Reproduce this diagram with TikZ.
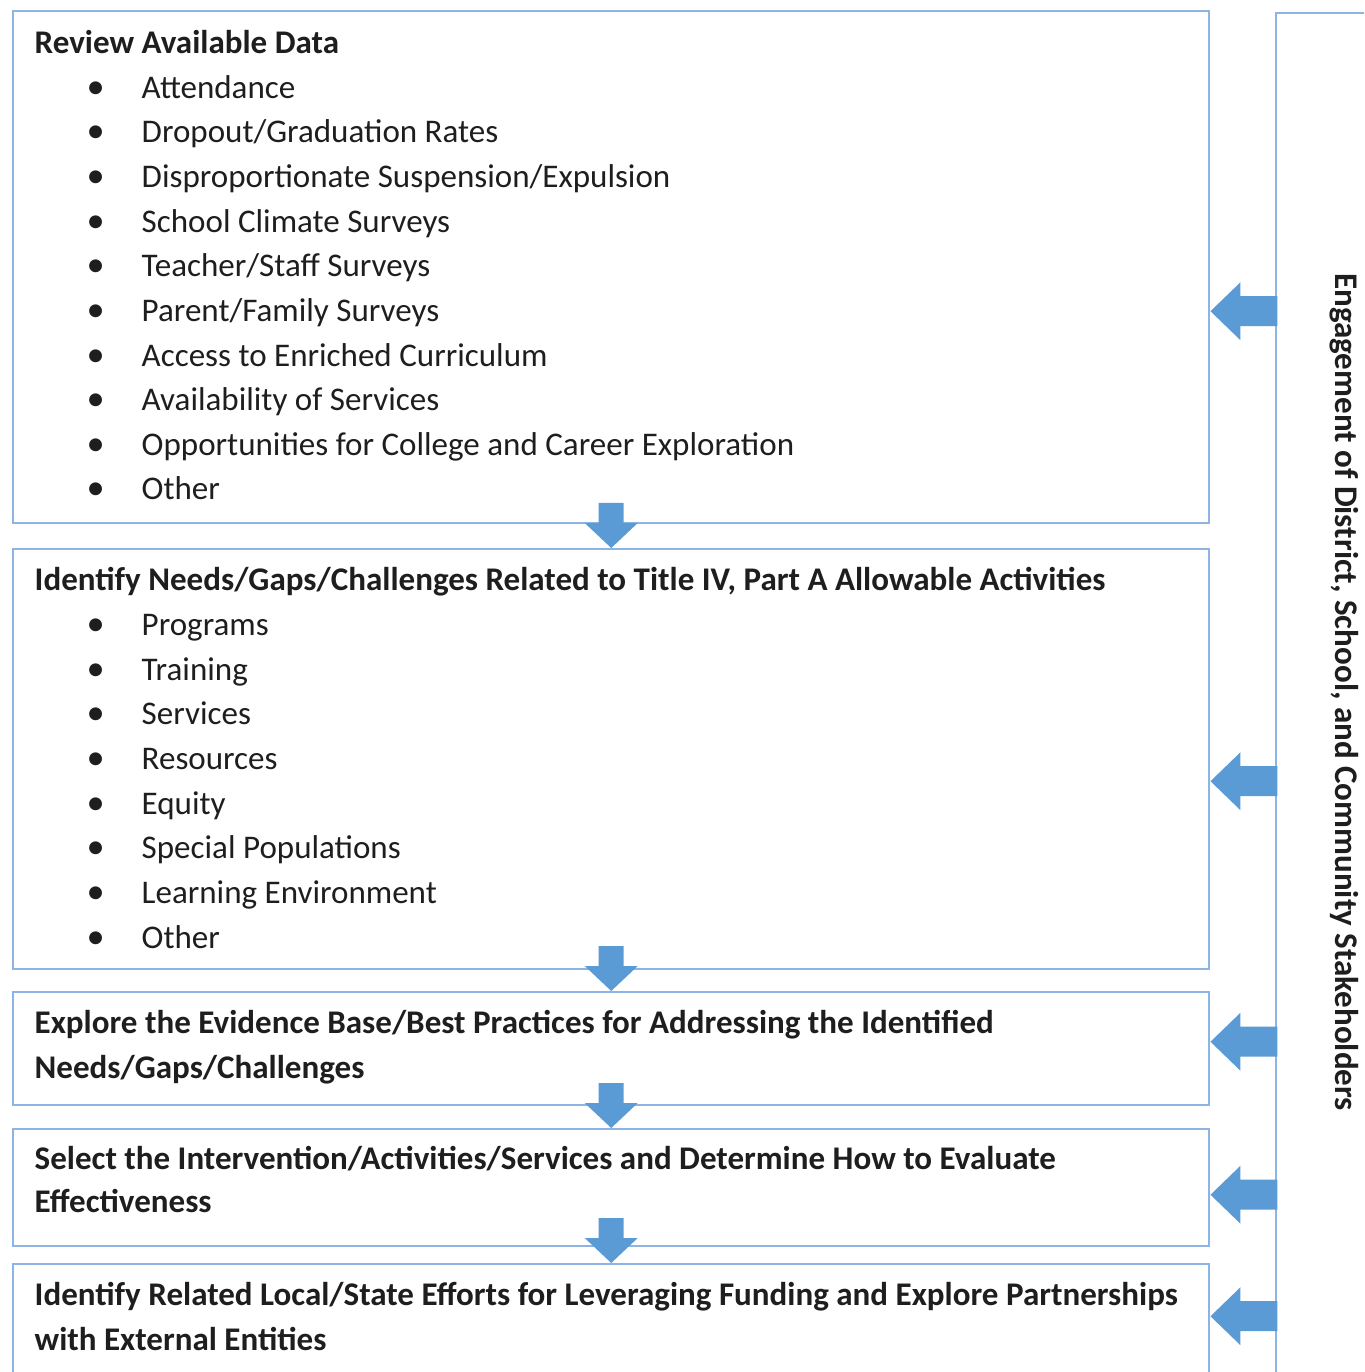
\documentclass[tikz,border=0pt]{standalone}
\usepackage{fontspec}
\setmainfont{Carlito}
\usetikzlibrary{positioning, calc}
\definecolor{flowline}{HTML}{8EB4E3}
\definecolor{flowarrow}{HTML}{5B9BD5}
\definecolor{flowtext}{HTML}{1E1E1E}
\newcommand{\flowitem}[1]{\hspace*{0.52cm}\makebox[0.55cm][l]{\scalebox{1.1}{\textbullet}}#1}
\tikzset{
  stepbox/.style={draw=flowline, line width=0.7pt, anchor=north west,
                  minimum width=11.96cm, inner sep=0},
  sidebox/.style={draw=flowline, line width=0.7pt, anchor=north west,
                  minimum width=2cm, minimum height=14cm, inner sep=0},
  steptext/.style={anchor=base west, align=left, inner sep=0, text=flowtext,
                   font=\fontsize{9.4}{12.7}\selectfont},
  downarr/.pic={\fill[flowarrow] (0,0) -- ++(0.265,0.25) -- ++(-0.14,0) -- ++(0,0.2)
                -- ++(-0.25,0) -- ++(0,-0.2) -- ++(-0.14,0) -- cycle;},
  leftarr/.pic={\fill[flowarrow] (0,0) -- ++(0.30,0.29) -- ++(0,-0.14) -- ++(0.37,0)
                -- ++(0,-0.30) -- ++(-0.37,0) -- ++(0,-0.14) -- cycle;}
}

\begin{document}
\begin{tikzpicture}
  \useasboundingbox (0,0) rectangle (13.64,-13.72);
  \clip (0,0) rectangle (13.64,-13.72);
  \fill[white] (0,0) rectangle (13.64,-13.72);

  % boxes
  \node[stepbox, minimum height=5.12cm] (data) at (0.12,-0.10) {};
  \node[stepbox, minimum height=4.20cm] (needs) at (0.12,-5.48) {};
  \node[stepbox, minimum height=1.13cm] (evidence) at (0.12,-9.91) {};
  \node[stepbox, minimum height=1.17cm] (select) at (0.12,-11.28) {};
  \node[stepbox, minimum height=1.50cm] (leverage) at (0.12,-12.63) {};
  \node[sidebox] (stake) at (12.75,-0.12) {};

  % texts (anchored on the baseline of the last line)
  \node[steptext] (datatxt) at (0.34,-5.00) {\textbf{Review Available Data}\\
    \flowitem{Attendance}\\ \flowitem{Dropout/Graduation Rates}\\
    \flowitem{Disproportionate Suspension/Expulsion}\\ \flowitem{School Climate Surveys}\\
    \flowitem{Teacher/Staff Surveys}\\ \flowitem{Parent/Family Surveys}\\
    \flowitem{Access to Enriched Curriculum}\\ \flowitem{Availability of Services}\\
    \flowitem{Opportunities for College and Career Exploration}\\ \flowitem{Other}};
  \node[steptext] (needstxt) at (0.34,-9.48) {\textbf{Identify Needs/Gaps/Challenges Related to Title IV, Part A Allowable Activities}\\
    \flowitem{Programs}\\ \flowitem{Training}\\ \flowitem{Services}\\ \flowitem{Resources}\\
    \flowitem{Equity}\\ \flowitem{Special Populations}\\ \flowitem{Learning Environment}\\
    \flowitem{Other}};
  \node[steptext, font=\fontsize{9.4}{12.7}\selectfont\bfseries] (evidencetxt) at (0.34,-10.78)
    {Explore the Evidence Base/Best Practices for Addressing the Identified\\ Needs/Gaps/Challenges};
  \node[steptext, font=\fontsize{9.4}{12.2}\selectfont\bfseries] (selecttxt) at (0.34,-12.12)
    {Select the Intervention/Activities/Services and Determine How to Evaluate\\ Effectiveness};
  \node[steptext, font=\fontsize{9.4}{12.7}\selectfont\bfseries] (leveragetxt) at (0.34,-13.50)
    {Identify Related Local/State Efforts for Leveraging Funding and Explore Partnerships\\ with External Entities};
  \node[text=flowtext, rotate=-90, font=\fontsize{9.4}{11}\selectfont\bfseries] (staketxt) at (13.44,-6.92)
    {Engagement of District, School, and Community Stakeholders};

  % arrows
  \pic at (needs.north) {downarr};
  \pic at (evidence.north) {downarr};
  \pic at (select.north) {downarr};
  \pic at (leverage.north) {downarr};
  \pic at ([yshift=-0.44cm]data.east) {leftarr};
  \pic at ([yshift=-0.22cm]needs.east) {leftarr};
  \pic at ([yshift=0.07cm]evidence.east) {leftarr};
  \pic at ([yshift=-0.07cm]select.east) {leftarr};
  \pic at ([yshift=0.23cm]leverage.east) {leftarr};
\end{tikzpicture}
\end{document}
